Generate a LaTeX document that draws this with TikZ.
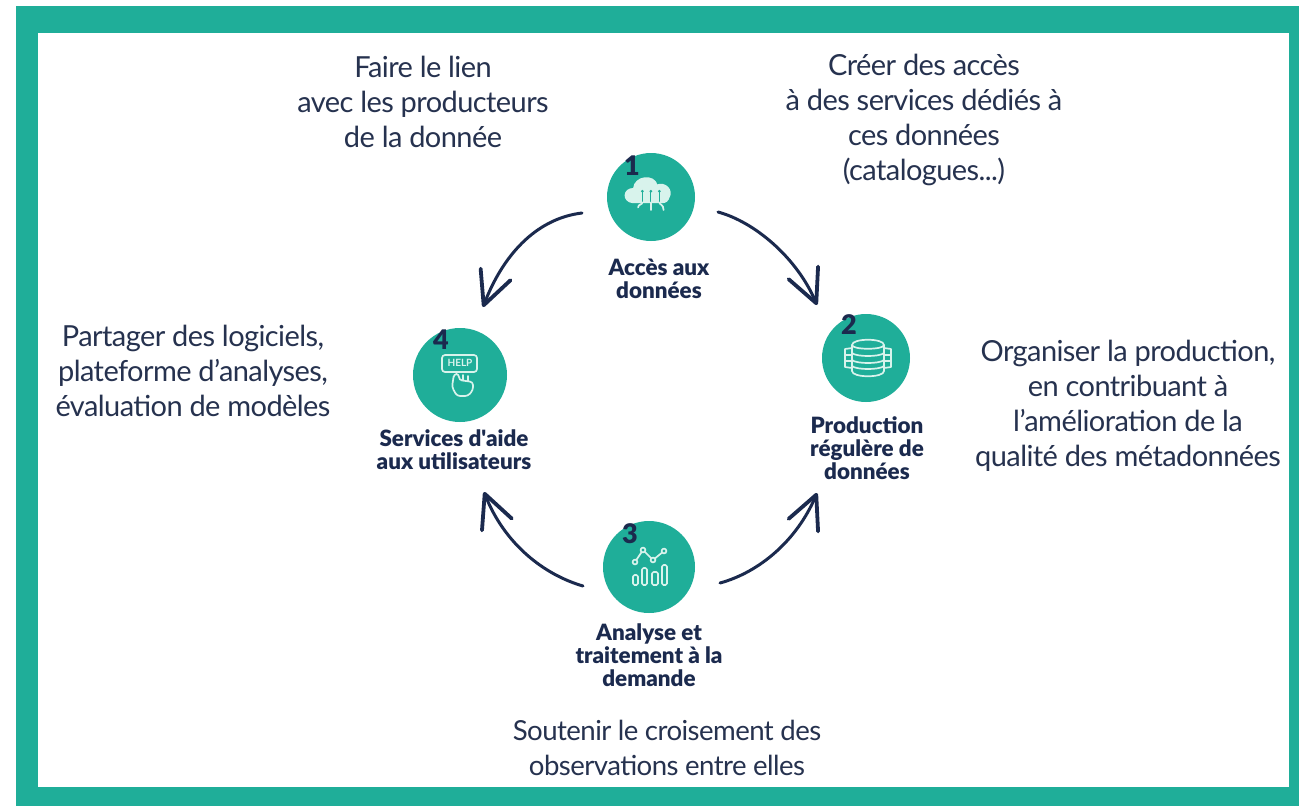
\documentclass[tikz,border=0pt]{standalone}
\usepackage{fontspec}
\setmainfont{Lato}
\newfontfamily\blackfont{Lato Black}
\usetikzlibrary{arrows.meta,calc}
\definecolor{teal1}{HTML}{1FAE99}
\definecolor{navy1}{HTML}{1B2A4E}
\definecolor{txt1}{HTML}{26324F}
\definecolor{icon1}{HTML}{D8F3EC}
\tikzset{
  x=1pt,y=-1pt,
  hub/.style={circle,fill=teal1,draw=none,minimum size=#1,inner sep=0pt},
  note/.style={align=center,font=\fontsize{29}{35}\selectfont\addfontfeatures{LetterSpace=-2},text=txt1,inner sep=0pt},
  notesmall/.style={note,font=\fontsize{27.6}{35.5}\selectfont\addfontfeatures{LetterSpace=-2}},
  hublabel/.style={align=center,font=\fontsize{22.4}{23}\selectfont\blackfont,text=navy1,inner sep=0pt},
  num/.style={font=\fontsize{27}{27}\selectfont\blackfont,text=navy1,inner sep=0pt},
  flow/.style={draw=navy1,line width=3pt,line cap=round,-{Straight Barb[length=33pt,width=32pt,line width=3.8pt,round]}},
  ico/.style={draw=icon1,line width=1.7pt,fill=none,line cap=round,line join=round}
}
\begin{document}
\begin{tikzpicture}
\useasboundingbox (0,0) rectangle (1299,807);
\fill[white] (0,0) rectangle (1299,807);
\fill[teal1] (16,6) rectangle (1299,806);
\fill[white] (38,33) rectangle (1289,787);

\node[hub=88pt] (c1) at (651,197) {};
\node[hub=88pt] (c2) at (866,358) {};
\node[hub=92pt] (c3) at (649,567) {};
\node[hub=94pt] (c4) at (460,375) {};

% cloud icon
\begin{scope}[shift={(c1)},shift={(-1,-4)},scale=.85]
\draw[ico,fill=icon1] (-20,11) .. controls (-32,10) and (-32,-5) .. (-19,-5)
  .. controls (-18,-20) and (5,-22) .. (8,-9) .. controls (18,-13) and (27,-3) .. (22,5)
  .. controls (21,9) and (18,11) .. (14,11) -- cycle;
\foreach \dx in {-9,1,11}{
 \draw[draw=teal1,line width=1.2pt] (\dx,-2) -- (\dx,11);
 \fill[teal1] (\dx,-2) circle (1.8);
}
\draw[ico] (-9,11) .. controls (-9,14) and (-14,13) .. (-14,17);
\draw[ico] (1,11) -- (1,20);
\draw[ico] (11,11) .. controls (11,14) and (16,13) .. (16,20);
\end{scope}

% database icon
\begin{scope}[shift={(c2)},shift={(2,0)}]
\draw[ico] (-16,-10) -- (-23,-9) -- (-23,9) -- (-16,10);
\draw[ico] (16,-10) -- (23,-9) -- (23,9) -- (16,10);
\draw[ico] (-23,-3) -- (-16,-3) (-23,3) -- (-16,3) (23,-3) -- (16,-3) (23,3) -- (16,3);
\draw[ico] (-16,-13) .. controls (-16,-20) and (16,-20) .. (16,-13) .. controls (16,-8) and (-16,-8) .. (-16,-13);
\draw[ico] (-16,-13) -- (-16,13) .. controls (-16,20) and (16,20) .. (16,13) -- (16,-13);
\draw[ico] (-16,-5) .. controls (-12,-1) and (12,-1) .. (16,-5);
\draw[ico] (-16,2) .. controls (-12,6) and (12,6) .. (16,2);
\draw[ico] (-16,8) .. controls (-12,12) and (12,12) .. (16,8);
\end{scope}

% chart icon
\begin{scope}[shift={(c3)}]
\draw[ico] (-14,-5) -- (-6,-17) -- (4,-7) -- (15,-16);
\foreach \p in {(-14,-5),(-6,-17),(4,-7),(15,-16)}{\draw[ico,fill=teal1] \p circle (2.4);}
\draw[ico,rounded corners=1.5pt] (-16,8) rectangle (-11,18);
\draw[ico,rounded corners=1.5pt] (-7,1) rectangle (-2,18);
\draw[ico,rounded corners=1.5pt] (3,5) rectangle (9,18);
\draw[ico,rounded corners=1.5pt] (13,-2) rectangle (18,18);
\end{scope}

% help icon
\begin{scope}[shift={(c4)}]
\draw[ico,rounded corners=3pt] (-18,-20) rectangle (17,-3);
\node[font=\fontsize{10}{10}\selectfont\bfseries,text=icon1,inner sep=0pt] (helpt) at (0,-12) {HELP};
\fill[teal1] (-7,-2.2) rectangle (10,3);
\draw[ico,rounded corners=3pt] (-8,12) -- (-6,-1) -- (-1,-1) -- (-1,5) -- (13,7) -- (13,15) -- (8,21) -- (-3,21) -- cycle;
\draw[ico] (3,0) -- (3,5) (8,1) -- (8,6);
\end{scope}

\node[num] (n1) at (632,166) {1};
\node[num] (n2) at (849,325) {2};
\node[num] (n3) at (630,534) {3};
\node[num] (n4) at (441,340) {4};

\node[hublabel] (l1) at (659,279) {Accès aux\\données};
\node[hublabel] (l2) at (867,448) {Production\\régulère de\\données};
\node[hublabel] (l3) at (649,655) {Analyse et\\traitement à la\\demande};
\node[hublabel] (l4) at (454,450) {Services d'aide\\aux utilisateurs};

\node[note] (t1) at (423,102) {Faire le lien\\avec les producteurs\\de la donnée};
\node[note] (t2) at (924,120) {Créer des accès\\à des services dédiés à\\ces données\\(catalogues...)};
\node[note] (t3) at (193,371) {Partager des logiciels,\\plateforme d’analyses,\\évaluation de modèles};
\node[note] (t4) at (1128,406) {Organiser la production,\\en contribuant à\\l’amélioration de la\\qualité des métadonnées};
\node[notesmall] (t5) at (667,748) {Soutenir le croisement des\\observations entre elles};

% connectors
\path (c1) ++(67,15) coordinate (s12) (c2) ++(-49,-53) coordinate (e12);
\path (c1) ++(-69,16) coordinate (s14) (c4) ++(23,-68) coordinate (e14);
\path (c3) ++(-66,19) coordinate (s34) (c4) ++(24,117) coordinate (e34);
\path (c3) ++(71,16) coordinate (s32) (c2) ++(-49,135) coordinate (e32);
\draw[flow] (s12) .. controls (755,222) and (797,258) .. (e12);
\draw[flow] (s14) .. controls (540,218) and (505,250) .. (e14);
\draw[flow] (s34) .. controls (545,575) and (505,545) .. (e34);
\draw[flow] (s32) .. controls (760,572) and (797,540) .. (e32);
\end{tikzpicture}
\end{document}
